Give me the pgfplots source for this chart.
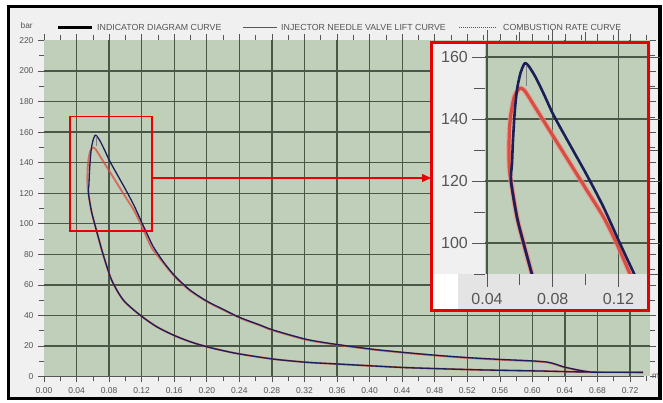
\documentclass[border=0pt]{standalone}
\usepackage{pgfplots}
\pgfplotsset{compat=1.18}
\usepackage{pgfplotstable}
\usepackage{fontspec}
\setmainfont{Liberation Sans}
\usetikzlibrary{arrows.meta}

\definecolor{bgG}{RGB}{192,207,186}
\definecolor{gridG}{RGB}{74,86,70}
\definecolor{navy}{RGB}{28,30,88}
\definecolor{redc}{RGB}{216,78,64}
\definecolor{pinkc}{RGB}{236,150,150}
\definecolor{txtG}{RGB}{85,85,85}
\definecolor{frameBg}{RGB}{240,240,240}
\definecolor{bandG}{RGB}{228,228,228}
\definecolor{boxred}{RGB}{232,0,0}

\pgfplotstableread{
x y
0.736 2.7
0.6687 2.9
0.609 3.6
0.548 4.2
0.511 4.7
0.4456 5.8
0.4046 6.9
0.3596 8.2
0.3227 9.3
0.2817 11.4
0.2408 14.7
0.2203 16.9
0.1999 19.5
0.1794 22.8
0.159 27.1
0.1384 32.6
0.118 40.2
0.0975 50.0
0.0831 63.1
0.0729 79.4
0.0673 90.0
0.0623 99.8
0.0582 108.4
0.0546 119.9
0.0552 125.7
0.0558 133.2
0.0568 141.9
0.0582 149.4
0.0603 154.8
0.0623 157.5
0.0633 158.1
0.0653 157.2
0.0694 153.7
0.0744 148.3
0.0805 141.3
0.0906 131.6
0.1008 121.9
0.1109 111.6
0.1210 99.8
0.1291 90.6
0.1343 84.9
0.1466 75.1
0.1610 65.7
0.1794 56.6
0.1999 49.4
0.2203 43.9
0.2408 38.6
0.2654 33.7
0.2817 30.4
0.3227 24.3
0.3596 21.0
0.4046 17.8
0.4456 15.6
0.4865 13.7
0.5230 12.3
0.5600 11.2
0.5970 10.3
0.6176 9.5
0.6278 8.2
0.6380 6.4
0.6500 4.9
0.6626 3.6
0.6728 2.9
}\bluedata

\pgfplotstableread{
x y
0.736 2.7
0.6687 2.9
0.609 3.6
0.548 4.2
0.511 4.7
0.4456 5.8
0.4046 6.9
0.3596 8.2
0.3227 9.3
0.2817 11.4
0.2408 14.7
0.2203 16.9
0.1999 19.5
0.1794 22.8
0.159 27.1
0.1384 32.6
0.118 40.2
0.0975 50.0
0.0831 63.1
0.0729 79.4
0.0673 90.0
0.0623 99.8
0.0582 108.4
0.0546 119.9
0.0536 124.0
0.0533 130.0
0.0537 137.0
0.0546 141.9
0.0566 147.3
0.0590 149.5
0.0606 150.0
0.0633 148.9
0.0704 142.9
0.0805 134.3
0.0906 125.7
0.1008 117.0
0.1109 108.4
0.1190 99.8
0.1271 90.0
0.1330 83.6
0.1466 74.4
0.1610 65.1
0.1794 56.2
0.1999 49.1
0.2203 43.6
0.2408 38.3
0.2654 33.4
0.2817 30.1
0.3227 24.0
0.3596 20.8
0.4046 17.6
0.4456 15.4
0.4865 13.5
0.5230 12.1
0.5600 11.0
0.5970 10.1
0.6176 9.3
0.6278 8.0
0.6380 6.2
0.6500 4.8
0.6626 3.5
0.6728 2.9
}\reddata

\pgfplotstableread{
x y
0.0637 157.6
0.0637 150.8
}\needledata

\begin{document}
\begin{tikzpicture}
\fill[white] (0pt,0pt) rectangle (663pt,403pt);
\draw[black, line width=3.5pt, fill=frameBg] (8.5pt,396.5pt) rectangle (660pt,4.5pt);

% legend
\node[anchor=west, inner sep=0, font=\fontsize{8.3}{9}\selectfont, text=txtG] at (20.5pt,377pt) {bar};
\draw[black, line width=2.6pt] (58pt,375.5pt) -- (92pt,375.5pt);
\node[anchor=west, inner sep=0, font=\fontsize{8.8}{9}\selectfont, text=txtG] at (97pt,376pt) {INDICATOR DIAGRAM CURVE};
\draw[txtG, line width=0.5pt] (243pt,376pt) -- (277pt,376pt);
\node[anchor=west, inner sep=0, font=\fontsize{8.8}{9}\selectfont, text=txtG] at (281pt,376pt) {INJECTOR NEEDLE VALVE LIFT CURVE};
\draw[txtG, line width=0.5pt, dash pattern=on 1pt off 1pt] (459pt,376pt) -- (497pt,376pt);
\node[anchor=west, inner sep=0, font=\fontsize{8.8}{9}\selectfont, text=txtG] at (503pt,376pt) {COMBUSTION RATE CURVE};

\begin{axis}[
  at={(44pt,26.5pt)}, anchor=south west,
  scale only axis, width=606.4pt, height=336pt,
  xmin=0, xmax=0.745, ymin=0, ymax=220,
  axis background/.style={fill=bgG},
  axis line style={draw=none},
  xtick={0.04,0.08,0.12,0.16,0.20,0.24,0.28,0.32,0.36,0.40,0.44,0.48,0.52,0.56,0.60,0.64,0.68,0.72},
  ytick={20,40,60,80,100,120,140,160,180,200},
  extra x ticks={0}, extra y ticks={0,220}, extra tick style={grid=none},
  minor xtick={0.02,0.06,0.10,0.14,0.18,0.22,0.26,0.30,0.34,0.38,0.42,0.46,0.50,0.54,0.58,0.62,0.66,0.70,0.74},
  minor ytick={10,30,50,70,90,110,130,150,170,190,210},
  grid=major, major grid style={gridG, line width=1.3pt},
  tick align=outside, major tick length=6pt, minor tick length=5pt,
  every tick/.style={txtG, line width=0.6pt},
  tick label style={font=\fontsize{8.5}{9}\selectfont, text=txtG},
  x tick label style={/pgf/number format/fixed, /pgf/number format/fixed zerofill, /pgf/number format/precision=2, yshift=-2pt},
  /pgf/number format/assume math mode=true,
  y tick label style={xshift=-1pt},
]
\addplot[redc, opacity=0.75, line width=1.9pt, smooth, tension=0.45, line join=round] table {\reddata};
\addplot[navy, line width=1.3pt, smooth, tension=0.45, line join=round] table {\bluedata};
\addplot[gray, line width=0.5pt] table {\needledata};
\draw[txtG, line width=0.6pt] (axis cs:0,0) -- (axis cs:0.737,0);
\draw[boxred, line width=1.6pt] (axis cs:0.0319,170.3) rectangle (axis cs:0.1327,95.1);
\end{axis}
\node[anchor=west, inner sep=0, font=\fontsize{8.3}{9}\selectfont, text=txtG] at (652pt,27pt) {m};

% connector arrow
\draw[boxred, line width=1.3pt, -{Triangle[length=9pt,width=8pt]}] (152pt,225pt) -- (431pt,225pt);

% inset background
\fill[frameBg] (430pt,362pt) rectangle (650pt,91pt);
\fill[bandG] (458pt,129pt) rectangle (648pt,93pt);
\fill[white] (432pt,129pt) rectangle (458pt,93pt);

\begin{axis}[
  at={(485.4pt,129pt)}, anchor=south west,
  scale only axis, width=161.6pt, height=230.7pt,
  xmin=0.039, xmax=0.1374, ymin=90, ymax=164.5,
  axis background/.style={fill=bgG},
  axis line style={draw=none},
  xtick={0.04,0.08,0.12}, ytick={100,120,140,160},
  minor xtick={0.06,0.10}, minor ytick={90,110,130,150},
  grid=major, major grid style={gridG, line width=1.5pt},
  tick align=outside, major tick length=13pt, minor tick length=11pt,
  every tick/.style={txtG, line width=0.9pt},
  tick label style={font=\fontsize{16}{18}\selectfont, text=txtG},
  x tick label style={/pgf/number format/fixed, /pgf/number format/fixed zerofill, /pgf/number format/precision=2, yshift=-3pt},
  /pgf/number format/assume math mode=true,
  y tick label style={xshift=-1pt},
]
\addplot[pinkc, opacity=0.6, line width=5.5pt, smooth, tension=0.45, line join=round] table {\reddata};
\addplot[redc, line width=3.2pt, smooth, tension=0.45, line join=round] table {\reddata};
\addplot[navy, line width=2.6pt, smooth, tension=0.45, line join=round] table {\bluedata};
\addplot[gray, line width=0.9pt] table {\needledata};
\end{axis}
\draw[boxred, line width=3pt] (431.5pt,360.5pt) rectangle (648.5pt,92.5pt);
\end{tikzpicture}
\end{document}
